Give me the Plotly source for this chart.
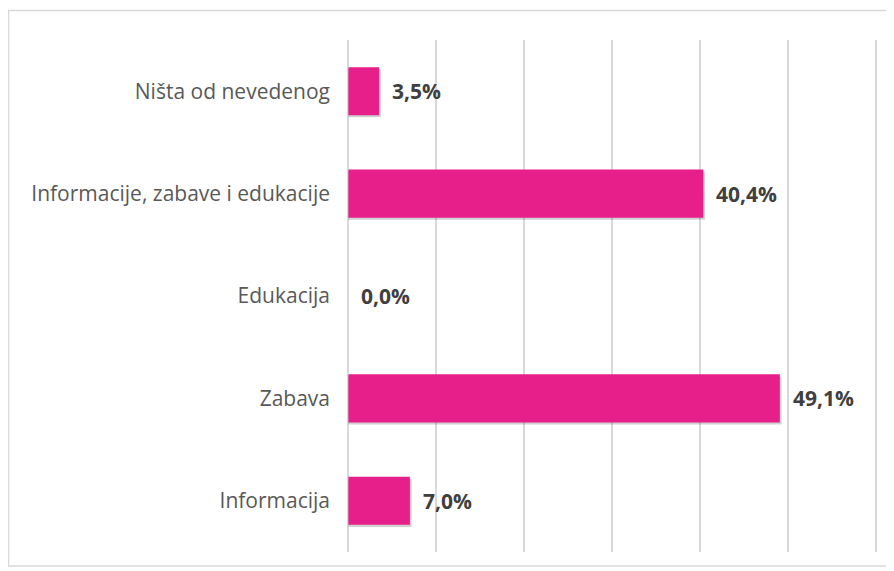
import plotly.graph_objects as go

# categories listed bottom to top (as plotted on the y axis)
categories = ["Informacija", "Zabava", "Edukacija", "Informacije, zabave i edukacije", "Ništa od nevedenog"]
values = [7.0, 49.1, 0.0, 40.4, 3.5]
labels = [f"{v:.1f}%".replace(".", ",") for v in values]

# page body has an 8px margin, so the figure is drawn 8px smaller
W, H = 886, 563
L, R, T, B = 336, 14, 32, 19
pw, ph = W - L - R, H - T - B

fig = go.Figure()

# soft drop shadow under the bars
fig.add_trace(go.Bar(
    y=categories, x=[v + 0.2 if v > 0 else 0 for v in values], orientation="h",
    width=0.47, offset=-0.255,
    marker=dict(color="rgba(0,0,0,0.18)", line=dict(width=0)),
    hoverinfo="skip", showlegend=False,
))
fig.add_trace(go.Bar(
    y=categories, x=values, orientation="h",
    width=0.47, offset=-0.235,
    marker=dict(color="#E61F8A", line=dict(width=0)),
    showlegend=False,
))

for c, v, t in zip(categories, values, labels):
    fig.add_annotation(x=v, y=c, text=f"<b>{t}</b>", showarrow=False,
                       xanchor="left", xshift=11,
                       font=dict(size=21, color="#404040", family="Open Sans"))

# outer chart border
fig.add_shape(type="rect", xref="paper", yref="paper",
              x0=(0.5 - L) / pw, x1=(885.5 - L) / pw,
              y0=-(558 - (T + ph)) / ph, y1=(T + ph - 2.5) / ph,
              line=dict(color="#D9D9D9", width=1.5), layer="below")

fig.update_layout(
    width=W, height=H,
    margin=dict(l=L, r=R, t=T, b=B),
    paper_bgcolor="white", plot_bgcolor="white",
    barmode="overlay",
    font=dict(family="Open Sans", size=21, color="#595959"),
    xaxis=dict(range=[-0.5, 60.5], dtick=10, showticklabels=False, zeroline=False,
               showgrid=True, gridcolor="#D9D9D9", gridwidth=1.5, fixedrange=True),
    yaxis=dict(showgrid=False, zeroline=False, ticks="", ticklabelstandoff=13,
               tickfont=dict(size=21, color="#595959")),
)

fig.write_html("out.html")
